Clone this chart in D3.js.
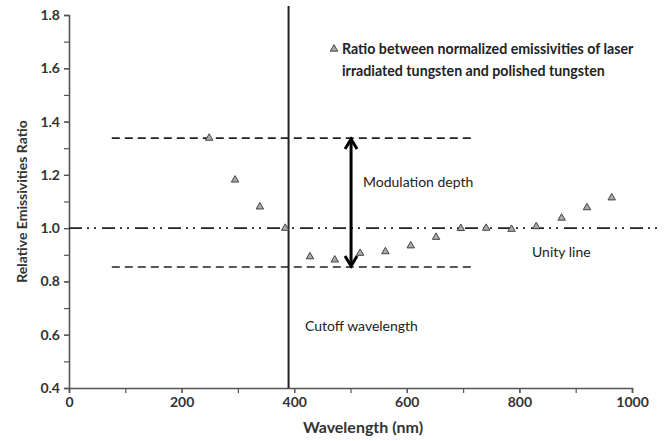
<!DOCTYPE html>
<html>
<head>
<meta charset="utf-8">
<script src="https://cdn.jsdelivr.net/npm/d3@7"></script>
<style>
  body { margin: 0; background: #fff; }
  svg text { font-family: Lato, "Open Sans", sans-serif; }
</style>
</head>
<body>
<svg id="chart" width="664" height="441"></svg>
<script>
// data
var wavelengths = [249, 295, 339, 384, 428, 472, 517, 562, 607, 652, 696, 741, 786, 830, 875, 920, 964];
var ratios = [1.338, 1.181, 1.080, 1.000, 0.893, 0.881, 0.906, 0.912, 0.934, 0.966, 0.999, 1.000, 0.996, 1.006, 1.038, 1.077, 1.114];
var xTicks = [0, 200, 400, 600, 800, 1000];
var yTicks = [0.4, 0.6, 0.8, 1.0, 1.2, 1.4, 1.6, 1.8];
var cutoffWavelength = 390;
var depthTop = 1.338, depthBottom = 0.854;
var depthRange = [76, 716];
var arrowWavelength = 501;
var unityValue = 1.0;

var svg = d3.select("#chart");

var x = d3.scaleLinear().domain([0, 1000]).range([69, 632]);
var y = d3.scaleLinear().domain([0.4, 1.8]).range([388, 15]);

var axisColour = "#555";

// minor ticks
svg.append("g")
    .attr("transform", "translate(0,388)")
    .call(d3.axisBottom(x).tickValues(d3.range(0, 1001, 100)).tickSize(5).tickFormat(""))
    .call(function (g) { g.selectAll("line").attr("stroke", axisColour).attr("stroke-width", 1.2); g.select(".domain").remove(); });
svg.append("g")
    .attr("transform", "translate(69,0)")
    .call(d3.axisLeft(y).tickValues(d3.range(0.4, 1.81, 0.1)).tickSize(5).tickFormat(""))
    .call(function (g) { g.selectAll("line").attr("stroke", axisColour).attr("stroke-width", 1.2); g.select(".domain").remove(); });

// x axis
var xAxis = svg.append("g")
    .attr("transform", "translate(0,388)")
    .call(d3.axisBottom(x).tickValues(xTicks).tickSize(5).tickPadding(4).tickFormat(d3.format("d")));
xAxis.select(".domain").attr("stroke", axisColour).attr("stroke-width", 1.6);
xAxis.selectAll("line").attr("stroke", axisColour).attr("stroke-width", 1.2);
xAxis.selectAll("text").attr("font-size", 14).attr("font-weight", "bold").attr("fill", "#333")
    .attr("font-family", "Lato, sans-serif");

// y axis
var yAxis = svg.append("g")
    .attr("transform", "translate(69,0)")
    .call(d3.axisLeft(y).tickValues(yTicks).tickSize(5).tickPadding(4).tickFormat(d3.format(".1f")));
yAxis.select(".domain").attr("stroke", axisColour).attr("stroke-width", 1.6);
yAxis.selectAll("line").attr("stroke", axisColour).attr("stroke-width", 1.2);
yAxis.selectAll("text").attr("font-size", 14).attr("font-weight", "bold").attr("fill", "#333")
    .attr("font-family", "Lato, sans-serif");

// axis titles
svg.append("text")
    .attr("x", 363)
    .attr("y", 433)
    .attr("text-anchor", "middle")
    .attr("font-size", 16)
    .attr("font-weight", "bold")
    .attr("fill", "#333")
    .text("Wavelength (nm)");

svg.append("text")
    .attr("transform", "translate(27," + y(1.1) + ")rotate(-90)")
    .attr("text-anchor", "middle")
    .attr("font-size", 14)
    .attr("font-weight", "bold")
    .attr("fill", "#333")
    .text("Relative Emissivities Ratio");

// unity line
svg.append("line")
    .attr("x1", x(0)).attr("x2", 660)
    .attr("y1", y(unityValue)).attr("y2", y(unityValue))
    .attr("stroke", "#222")
    .attr("stroke-width", 1.6)
    .attr("stroke-dasharray", "13,5,2,5,2,6");

// modulation depth dashed lines
[depthTop, depthBottom].forEach(function (v) {
    svg.append("line")
        .attr("x1", x(depthRange[0])).attr("x2", x(depthRange[1]))
        .attr("y1", y(v)).attr("y2", y(v))
        .attr("stroke", "#222")
        .attr("stroke-width", 1.6)
        .attr("stroke-dasharray", "8,5");
});

// cutoff line
svg.append("line")
    .attr("x1", x(cutoffWavelength)).attr("x2", x(cutoffWavelength))
    .attr("y1", 6).attr("y2", y(0.4))
    .attr("stroke", "#222")
    .attr("stroke-width", 2);

// double arrow
var ax = x(arrowWavelength), ay1 = y(depthTop) + 1, ay2 = y(depthBottom) - 1;
svg.append("line")
    .attr("x1", ax).attr("x2", ax)
    .attr("y1", ay1 + 2).attr("y2", ay2 - 2)
    .attr("stroke", "#000").attr("stroke-width", 3);
svg.append("path")
    .attr("d", "M" + (ax - 6) + "," + (ay1 + 10) + "L" + ax + "," + ay1 + "L" + (ax + 6) + "," + (ay1 + 10))
    .attr("fill", "none").attr("stroke", "#000").attr("stroke-width", 3);
svg.append("path")
    .attr("d", "M" + (ax - 6) + "," + (ay2 - 10) + "L" + ax + "," + ay2 + "L" + (ax + 6) + "," + (ay2 - 10))
    .attr("fill", "none").attr("stroke", "#000").attr("stroke-width", 3);

// data points
var tri = d3.symbol().type(d3.symbolTriangle).size(24);
svg.append("g").selectAll("path")
    .data(wavelengths)
    .enter().append("path")
    .attr("d", tri)
    .attr("transform", function (d, i) { return "translate(" + x(d) + "," + y(ratios[i]) + ")"; })
    .attr("fill", "#aaa")
    .attr("stroke", "#444")
    .attr("stroke-width", 1);

// annotations
svg.append("text").attr("x", 363).attr("y", 187).attr("font-size", 14).attr("fill", "#222").text("Modulation depth");
svg.append("text").attr("x", 532).attr("y", 257).attr("font-size", 14).attr("fill", "#222").text("Unity line");
svg.append("text").attr("x", 305).attr("y", 331).attr("font-size", 14).attr("fill", "#222").text("Cutoff wavelength");

// legend
svg.append("path")
    .attr("d", tri)
    .attr("transform", "translate(334,49)")
    .attr("fill", "#aaa").attr("stroke", "#444").attr("stroke-width", 1);
svg.append("text").attr("x", 342).attr("y", 54).attr("font-size", 14.2).attr("font-weight", "bold").attr("fill", "#222")
    .text("Ratio between normalized emissivities of laser");
svg.append("text").attr("x", 342).attr("y", 76).attr("font-size", 14.2).attr("font-weight", "bold").attr("fill", "#222")
    .text("irradiated tungsten and polished tungsten");
</script>
</body>
</html>
